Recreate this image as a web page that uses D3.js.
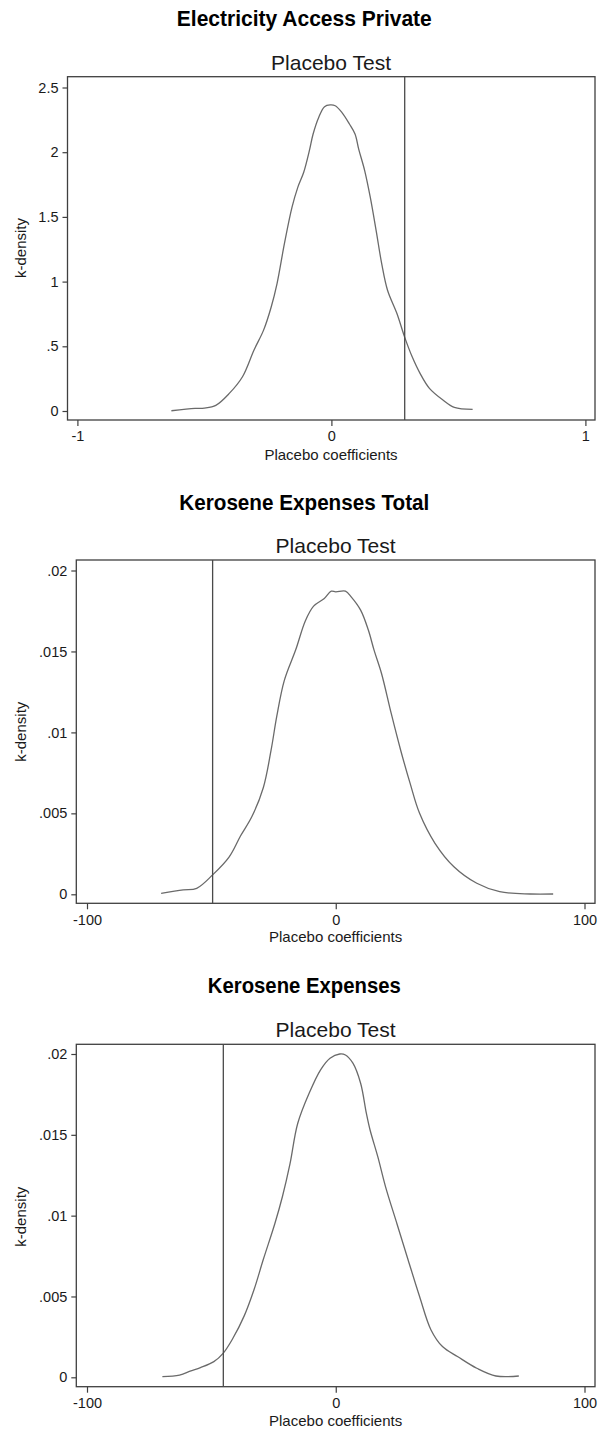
<!DOCTYPE html>
<html>
<head>
<meta charset="utf-8">
<script src="https://cdn.jsdelivr.net/npm/d3@7"></script>
<style>
  html, body { margin: 0; padding: 0; background: #fff; }
  svg { display: block; }
  text { font-family: "Liberation Sans", Arial, Helvetica, sans-serif; }
</style>
</head>
<body>
<script>
// ---------- DATA ----------
const panelTitles = ["Electricity Access Private", "Kerosene Expenses Total", "Kerosene Expenses"];
const subTitle = "Placebo Test";
const xAxisTitle = "Placebo coefficients";
const yAxisTitle = "k-density";

// Panel 1: Electricity Access Private
const p1X = [-0.630, -0.537, -0.500, -0.455, -0.402, -0.350, -0.305, -0.267, -0.237, -0.214, -0.185, -0.155, -0.132, -0.109, -0.087, -0.072, -0.050, -0.027, -0.005, 0.015, 0.041, 0.071, 0.093, 0.108, 0.131, 0.153, 0.176, 0.198, 0.221, 0.258, 0.288, 0.318, 0.349, 0.386, 0.439, 0.484, 0.556];
const p1Y = [0.002, 0.020, 0.023, 0.044, 0.136, 0.265, 0.470, 0.625, 0.804, 0.985, 1.293, 1.575, 1.730, 1.845, 2.010, 2.141, 2.269, 2.352, 2.365, 2.359, 2.308, 2.218, 2.141, 2.020, 1.858, 1.652, 1.396, 1.139, 0.933, 0.753, 0.573, 0.419, 0.291, 0.175, 0.085, 0.028, 0.013];
const p1Line = 0.2886;
const p1XTicks = [-1, 0, 1];
const p1XTickLabels = ["-1", "0", "1"];
const p1YTicks = [0, 0.5, 1, 1.5, 2, 2.5];
const p1YTickLabels = ["0", ".5", "1", "1.5", "2", "2.5"];

// Panel 2: Kerosene Expenses Total
const p2X = [-70.2, -61.3, -55.9, -49.5, -42.9, -38.3, -33.7, -29.1, -26.0, -23.7, -20.7, -16.1, -12.2, -8.9, -4.6, -1.8, 0.0, 3.9, 6.2, 10.0, 13.1, 15.4, 18.4, 22.3, 26.1, 29.9, 33.7, 39.9, 47.5, 56.7, 65.9, 78.2, 87.4];
const p2Y = [0.00006, 0.00027, 0.00037, 0.0012, 0.0023, 0.0036, 0.0048, 0.0066, 0.0089, 0.0110, 0.0132, 0.0151, 0.0169, 0.0178, 0.01827, 0.01872, 0.01868, 0.01872, 0.01837, 0.01755, 0.01632, 0.01508, 0.01364, 0.01117, 0.0089, 0.00685, 0.0050, 0.00315, 0.0017, 0.00068, 0.00016, 0.00002, 0.00002];
const p2Line = -49.5;
const p2XTicks = [-100, 0, 100];
const p2XTickLabels = ["-100", "0", "100"];
const p2YTicks = [0, 0.005, 0.01, 0.015, 0.02];
const p2YTickLabels = ["0", ".005", ".01", ".015", ".02"];

// Panel 3: Kerosene Expenses
const p3X = [-69.7, -62.8, -58.2, -54.4, -49.0, -45.2, -41.4, -36.8, -32.9, -29.1, -24.5, -21.4, -18.4, -15.3, -10.7, -6.1, -2.3, 1.6, 3.9, 6.9, 10.0, 12.3, 13.8, 16.9, 20.0, 24.6, 29.1, 33.7, 38.3, 42.9, 49.1, 56.7, 64.4, 73.6];
const p3Y = [0.00004, 0.00014, 0.0004, 0.0006, 0.00097, 0.0015, 0.0024, 0.0038, 0.0054, 0.0073, 0.0095, 0.0112, 0.0132, 0.0157, 0.01757, 0.01902, 0.01974, 0.0200, 0.01994, 0.01943, 0.01819, 0.01634, 0.0153, 0.01365, 0.0118, 0.0095, 0.00726, 0.0050, 0.00293, 0.0019, 0.00127, 0.00056, 0.00008, 0.00008];
const p3Line = -45.2;
const p3XTicks = [-100, 0, 100];
const p3XTickLabels = ["-100", "0", "100"];
const p3YTicks = [0, 0.005, 0.01, 0.015, 0.02];
const p3YTickLabels = ["0", ".005", ".01", ".015", ".02"];

// ---------- LAYOUT ----------
const W = 598, H = 1433;
const svg = d3.select("body").append("svg").attr("width", W).attr("height", H);

const panels = [
  { title: panelTitles[0], titleW: 255, xs: p1X, ys: p1Y, line: p1Line,
    xTicks: p1XTicks, xLabels: p1XTickLabels, yTicks: p1YTicks, yLabels: p1YTickLabels,
    xTickPx: [77.4, 585.4], yTickVals: [0, 2.5], yTickPx: [411, 87.5],
    box: { l: 67.5, r: 595, t: 76.7, b: 420 },
    titleY: 26, subY: 70, xLabY: 459.5, yLabX: 26, yLabY: 248, titleX: 304.3, centerX: 331 },
  { title: panelTitles[1], titleW: 250, xs: p2X, ys: p2Y, line: p2Line,
    xTicks: p2XTicks, xLabels: p2XTickLabels, yTicks: p2YTicks, yLabels: p2YTickLabels,
    xTickPx: [87, 584.5], yTickVals: [0, 0.02], yTickPx: [894.3, 570.5],
    box: { l: 76.3, r: 595, t: 560, b: 903.3 },
    titleY: 510, subY: 553, xLabY: 942, yLabX: 26, yLabY: 731.7, titleX: 304.3, centerX: 335.6 },
  { title: panelTitles[2], titleW: 193, xs: p3X, ys: p3Y, line: p3Line,
    xTicks: p3XTicks, xLabels: p3XTickLabels, yTicks: p3YTicks, yLabels: p3YTickLabels,
    xTickPx: [87, 584.5], yTickVals: [0, 0.02], yTickPx: [1377.3, 1054],
    box: { l: 76.3, r: 595, t: 1044.3, b: 1386.7 },
    titleY: 993.3, subY: 1037.3, xLabY: 1426, yLabX: 26, yLabY: 1216.7, titleX: 304.3, centerX: 335.6 }
];

const frameColor = "#3f3f3f";
const curveColor = "#6a6a6a";
const vlineColor = "#4a4a4a";
const textColor = "#1a1a1a";

panels.forEach(p => {
  const g = svg.append("g");
  const x = d3.scaleLinear()
    .domain([p.xTicks[0], p.xTicks[p.xTicks.length - 1]])
    .range(p.xTickPx);
  const y = d3.scaleLinear().domain(p.yTickVals).range(p.yTickPx);

  // Titles
  g.append("text").attr("x", p.titleX).attr("y", p.titleY)
    .attr("text-anchor", "middle").attr("font-size", 22).attr("font-weight", "bold")
    .attr("textLength", p.titleW).attr("lengthAdjust", "spacingAndGlyphs")
    .attr("fill", "#000").text(p.title);
  g.append("text").attr("x", p.centerX).attr("y", p.subY)
    .attr("text-anchor", "middle").attr("font-size", 21)
    .attr("textLength", 120).attr("lengthAdjust", "spacingAndGlyphs")
    .attr("fill", textColor).text(subTitle);

  // Frame
  g.append("rect")
    .attr("x", p.box.l).attr("y", p.box.t)
    .attr("width", p.box.r - p.box.l).attr("height", p.box.b - p.box.t)
    .attr("fill", "none").attr("stroke", frameColor).attr("stroke-width", 1.3);

  // X axis
  const xAxis = d3.axisBottom(x).tickValues(p.xTicks)
    .tickFormat((d, i) => p.xLabels[i]).tickSize(6).tickPadding(5).tickSizeOuter(0);
  const xa = g.append("g").attr("transform", `translate(0,${p.box.b})`).call(xAxis);
  xa.select(".domain").remove();
  xa.selectAll(".tick line").attr("stroke", frameColor).attr("stroke-width", 1.2);
  xa.selectAll(".tick text").attr("font-size", 14.5).attr("fill", textColor)
    .attr("font-family", "Liberation Sans, Arial, sans-serif");

  // Y axis
  const yAxis = d3.axisLeft(y).tickValues(p.yTicks)
    .tickFormat((d, i) => p.yLabels[i]).tickSize(5).tickPadding(4).tickSizeOuter(0);
  const ya = g.append("g").attr("transform", `translate(${p.box.l},0)`).call(yAxis);
  ya.select(".domain").remove();
  ya.selectAll(".tick line").attr("stroke", frameColor).attr("stroke-width", 1.2);
  ya.selectAll(".tick text").attr("font-size", 14.5).attr("fill", textColor)
    .attr("font-family", "Liberation Sans, Arial, sans-serif");

  // Axis titles
  g.append("text").attr("x", p.centerX).attr("y", p.xLabY)
    .attr("text-anchor", "middle").attr("font-size", 15).attr("fill", textColor)
    .text(xAxisTitle);
  g.append("text")
    .attr("transform", `translate(${p.yLabX},${p.yLabY}) rotate(-90)`)
    .attr("text-anchor", "middle").attr("font-size", 15).attr("fill", textColor)
    .text(yAxisTitle);

  // Density curve
  const pts = p.xs.map((v, i) => [v, p.ys[i]]);
  const line = d3.line().x(d => x(d[0])).y(d => y(d[1])).curve(d3.curveCatmullRom.alpha(0.5));
  g.append("path").datum(pts).attr("d", line)
    .attr("fill", "none").attr("stroke", curveColor).attr("stroke-width", 1.3);

  // Vertical reference line
  g.append("line")
    .attr("x1", x(p.line)).attr("x2", x(p.line))
    .attr("y1", p.box.t).attr("y2", p.box.b)
    .attr("stroke", vlineColor).attr("stroke-width", 1.3);
});
</script>
</body>
</html>
